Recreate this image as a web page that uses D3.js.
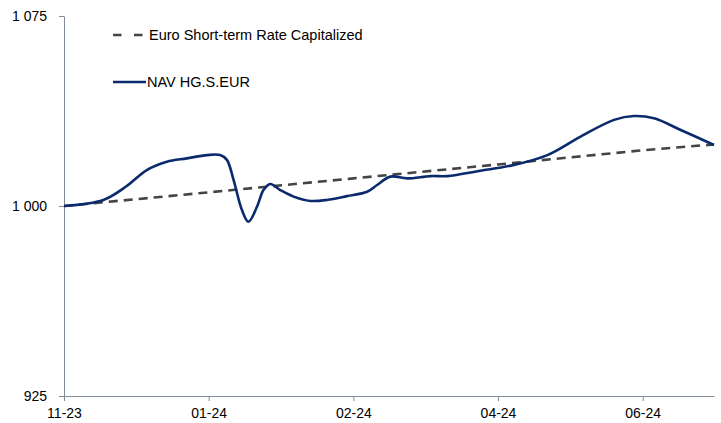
<!DOCTYPE html>
<html>
<head>
<meta charset="utf-8">
<script src="https://cdn.jsdelivr.net/npm/d3@7"></script>
<style>
  html, body { margin: 0; padding: 0; background: #fff; }
  svg { display: block; font-family: "Liberation Sans", Arial, sans-serif; }
</style>
</head>
<body>
<svg id="chart" width="721" height="423"></svg>
<script>
// Axis positions (in label periods) and their labels
const tickPositions = [0, 1, 2, 3, 4];
const tickLabels = ["11-23", "01-24", "02-24", "04-24", "06-24"];
const yTicks = [925, 1000, 1075];

// NAV HG.S.EUR (rebased to 1 000)
const navT = [0, 0.272, 0.434, 0.572, 0.711, 0.849, 0.988, 1.080, 1.126, 1.172, 1.230, 1.275, 1.334, 1.379, 1.426, 1.495, 1.587, 1.702, 1.818, 1.956, 2.095, 2.164, 2.256, 2.372, 2.533, 2.649, 2.879, 3.109, 3.341, 3.571, 3.802, 3.940, 4.078, 4.263, 4.493];
const navValues = [1000, 1002.4, 1007.9, 1014.2, 1017.5, 1018.8, 1020.1, 1020.1, 1018.2, 1010.3, 998.4, 993.8, 999.7, 1006.3, 1008.7, 1006.3, 1003.7, 1002.0, 1002.4, 1003.9, 1005.6, 1008.3, 1011.6, 1010.9, 1011.8, 1011.8, 1013.9, 1016.2, 1020.1, 1027.4, 1034.0, 1035.5, 1034.6, 1030.0, 1024.1];

// Euro Short-term Rate capitalized (rebased to 1 000)
const estrT = [0, 1, 2, 3, 4, 4.493];
const estrValues = [1000, 1005.4, 1010.9, 1016.4, 1022.0, 1024.3];

const svg = d3.select("#chart");
const margin = { left: 64, right: 714, top: 16, bottom: 396 };

const x = d3.scaleLinear().domain([0, 4.493]).range([margin.left, margin.right]);
const y = d3.scaleLinear().domain([925, 1075]).range([margin.bottom, margin.top]);

const axisColor = "#7f8b96";
const fontFamily = "Liberation Sans, Arial, sans-serif";
const fmt = v => d3.format(",")(v).replace(/,/g, " ");

// Y axis
const yAxis = svg.append("g")
  .attr("transform", `translate(${margin.left},0)`)
  .call(d3.axisLeft(y).tickValues(yTicks).tickFormat(fmt).tickSize(5).tickSizeOuter(0));
yAxis.select(".domain").attr("stroke", axisColor);
yAxis.selectAll(".tick line").attr("stroke", axisColor);
yAxis.selectAll(".tick text")
  .attr("x", -17)
  .attr("fill", "#000")
  .style("font-size", "14px")
  .style("font-family", fontFamily);

// X axis
const xAxis = svg.append("g")
  .attr("transform", `translate(0,${margin.bottom})`)
  .call(d3.axisBottom(x).tickValues(tickPositions).tickFormat((d, i) => tickLabels[i]).tickSize(5).tickSizeOuter(0));
xAxis.select(".domain").attr("stroke", axisColor);
xAxis.selectAll(".tick line").attr("stroke", axisColor);
xAxis.selectAll(".tick text")
  .attr("y", 12)
  .attr("fill", "#000")
  .style("font-size", "14px")
  .style("font-family", fontFamily);

// Series
const estrData = estrT.map((t, i) => ({ t, v: estrValues[i] }));
const navData = navT.map((t, i) => ({ t, v: navValues[i] }));

svg.append("path")
  .datum(estrData)
  .attr("fill", "none")
  .attr("stroke", "#444444")
  .attr("stroke-width", 2.6)
  .attr("stroke-dasharray", "9,6")
  .attr("d", d3.line().x(d => x(d.t)).y(d => y(d.v)));

svg.append("path")
  .datum(navData)
  .attr("fill", "none")
  .attr("stroke", "#0b2a6e")
  .attr("stroke-width", 2.6)
  .attr("d", d3.line().curve(d3.curveCatmullRom.alpha(0.5)).x(d => x(d.t)).y(d => y(d.v)));

// Legend
const legend = svg.append("g").style("font-size", "14.5px").style("font-family", fontFamily);
legend.append("line")
  .attr("x1", 113).attr("x2", 143).attr("y1", 35).attr("y2", 35)
  .attr("stroke", "#444444").attr("stroke-width", 2.6).attr("stroke-dasharray", "8.5,12.5");
legend.append("text").attr("x", 149).attr("y", 40).text("Euro Short-term Rate Capitalized");
legend.append("line")
  .attr("x1", 113).attr("x2", 146).attr("y1", 82).attr("y2", 82)
  .attr("stroke", "#0b2a6e").attr("stroke-width", 2.6);
legend.append("text").attr("x", 147).attr("y", 87).text("NAV HG.S.EUR");
</script>
</body>
</html>
